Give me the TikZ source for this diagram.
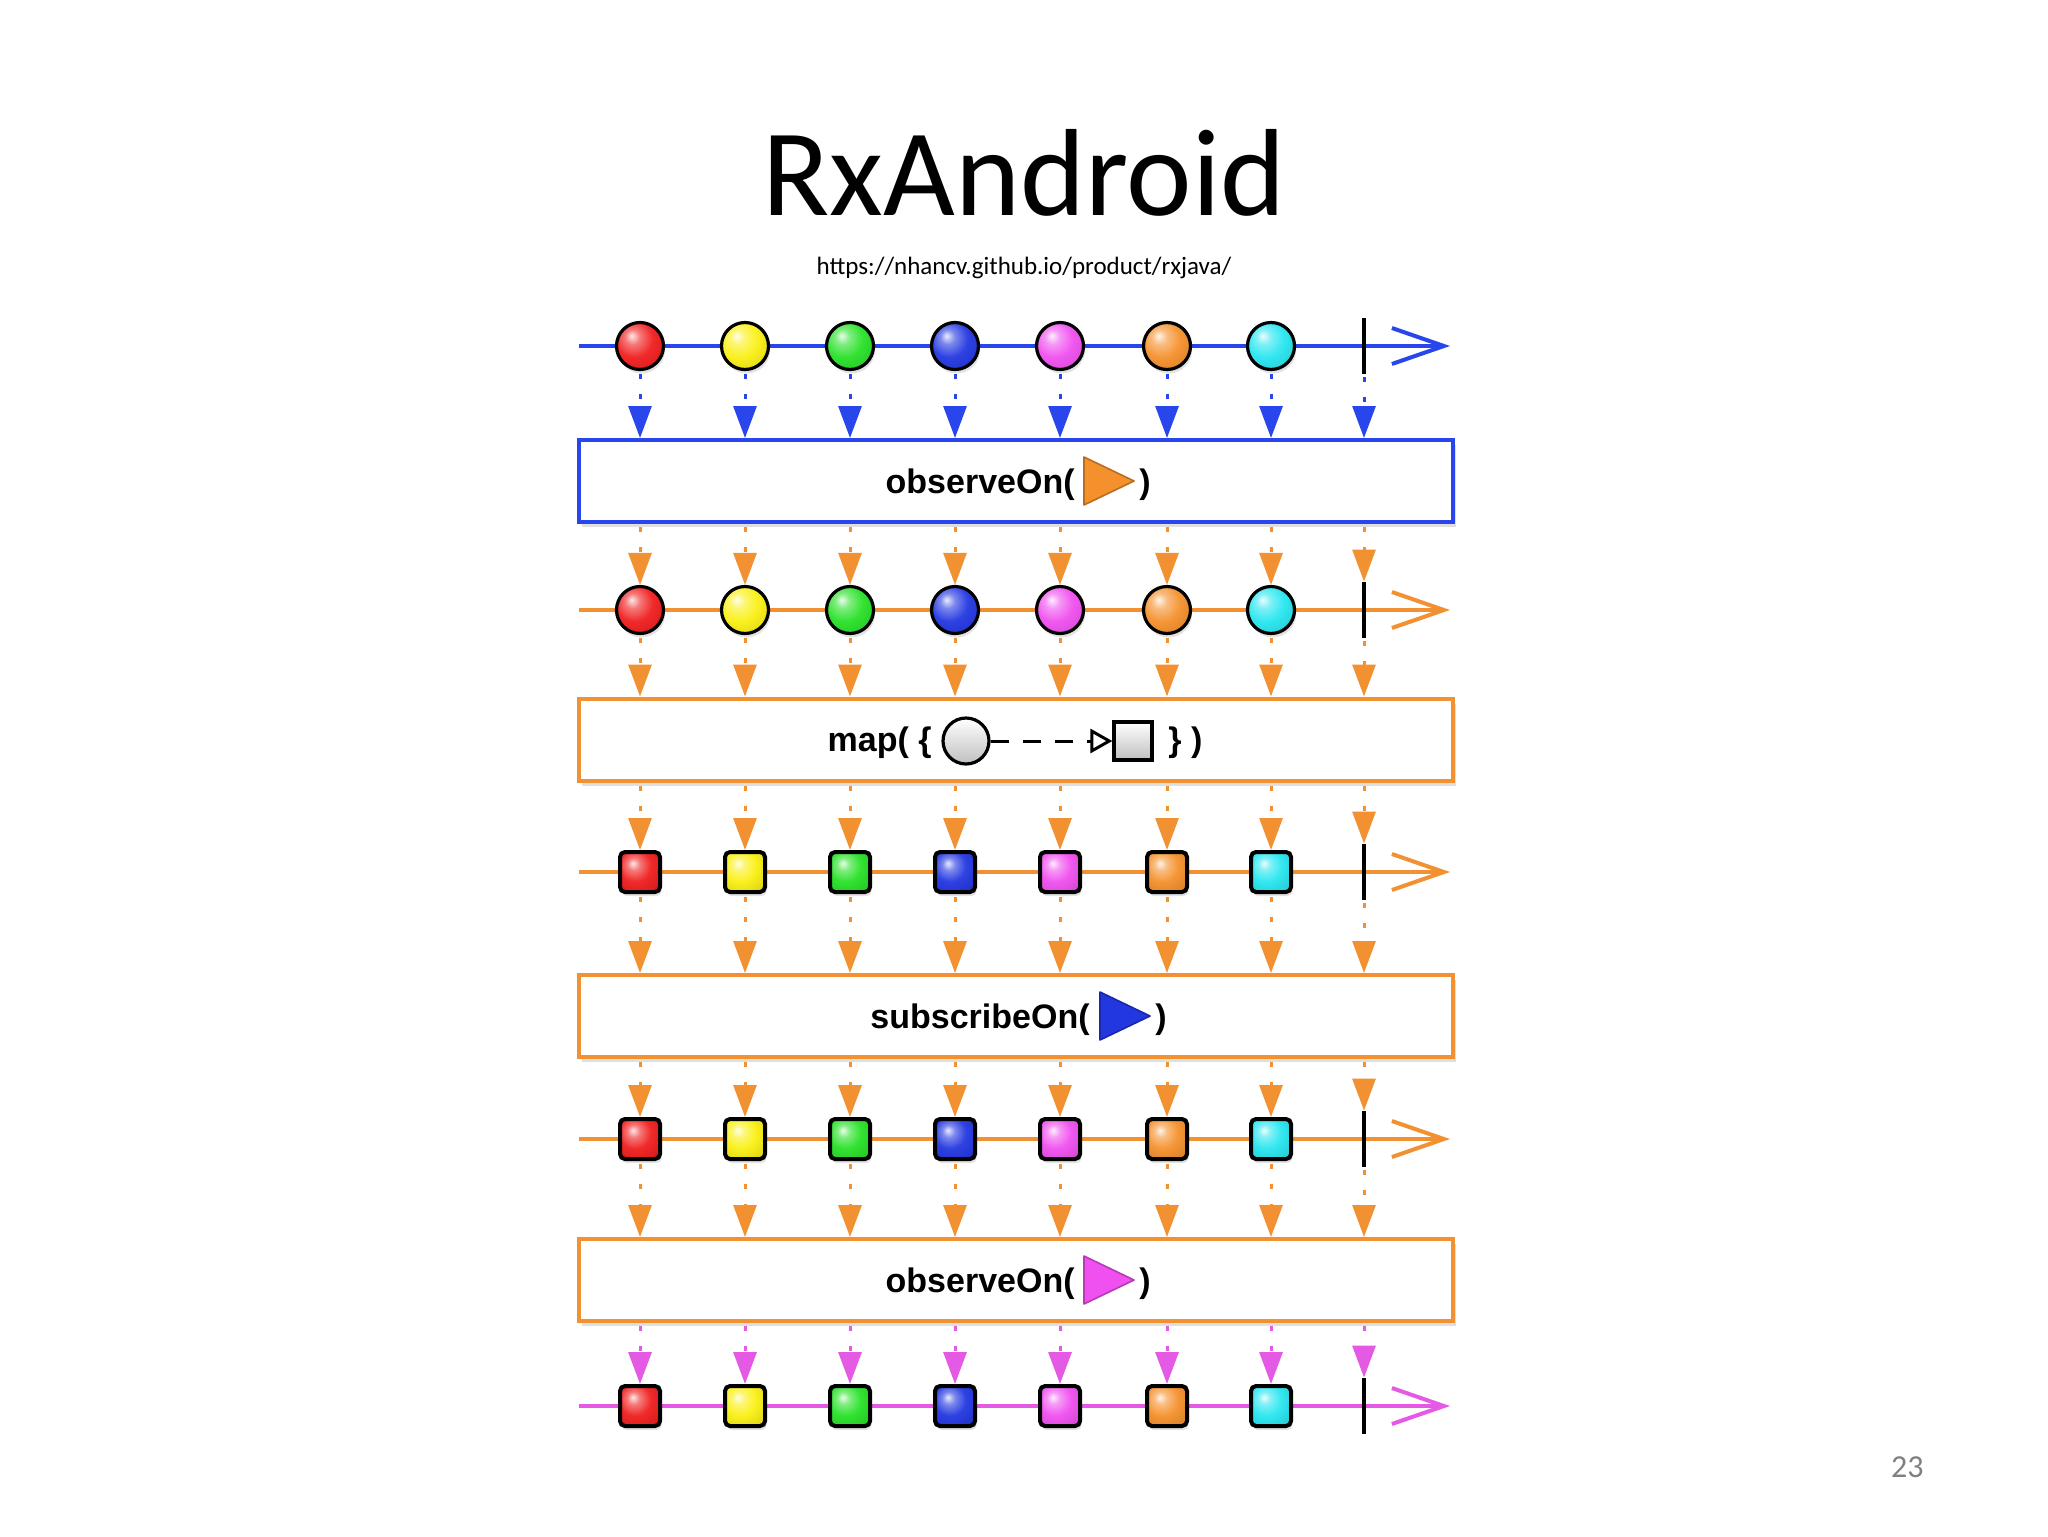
\documentclass[tikz,border=0pt]{standalone}
\usepackage{fontspec}
\setmainfont{Carlito}
\newfontfamily\helv{Liberation Sans}
\usetikzlibrary{arrows.meta,shadows}
\definecolor{rxred}{RGB}{240,30,30}
\definecolor{rxyellow}{RGB}{250,240,20}
\definecolor{rxgreen}{RGB}{40,225,40}
\definecolor{rxblue}{RGB}{35,55,225}
\definecolor{rxmagenta}{RGB}{240,80,240}
\definecolor{rxorange}{RGB}{245,145,45}
\definecolor{rxcyan}{RGB}{40,230,240}
\definecolor{lineblue}{RGB}{40,70,235}
\definecolor{lineorange}{RGB}{242,145,50}
\definecolor{linepink}{RGB}{228,90,228}
\colorlet{rxc}{red}
\pgfdeclareradialshading[rxc]{glossy}{\pgfqpoint{-9bp}{11bp}}{%
  color(0bp)=(rxc!10!white); color(8bp)=(rxc!60!white); color(20bp)=(rxc!95!white);
  color(38bp)=(rxc!88!black); color(55bp)=(rxc!55!black); color(70bp)=(rxc!40!black)}
\begin{document}
\begin{tikzpicture}[x=0.5pt,y=-0.5pt,
  glossy/.code={\colorlet{rxc}{#1}\tikzset{shading=glossy}},
  tl/.style={line width=2pt,-{Straight Barb[length=26pt,width=18pt]}},
  itemshadow/.style={drop shadow={opacity=0.22,shadow xshift=0.8pt,shadow yshift=-2pt}},
  ballitem/.style={circle,draw=black,line width=1.6pt,minimum size=23.5pt,inner sep=0pt,glossy=#1,itemshadow},
  sqitem/.style={rectangle,rounded corners=2.5pt,draw=black,line width=2pt,minimum size=20pt,inner sep=0pt,glossy=#1,itemshadow},
  cbar/.style={fill=black,minimum width=2pt,minimum height=28pt,inner sep=0pt},
  opbox/.style={draw=#1,line width=2pt,fill=white,minimum width=437pt,minimum height=41pt,inner sep=0pt,
    drop shadow={opacity=0.25,shadow xshift=1.5pt,shadow yshift=-2.5pt}},
  emit/.style={draw=#1,line width=1.5pt,dash pattern=on 2.5pt off 7.5pt,-{Triangle[width=11.5pt,length=16pt]},shorten <=1.5pt},
  lbl/.style={font=\helv\bfseries\fontsize{17}{20}\selectfont,inner sep=0pt},
  tri/.style={fill=#1,draw=#1!75!black,line width=0.8pt,line join=round},
]
\fill[white] (0,0) rectangle (2048,1536);
\useasboundingbox (0,0) rectangle (2048,1536);

% title, url, page number
\node[font=\fontsize{62}{70}\selectfont,anchor=base,inner sep=0pt] (title) at (1024,215) {RxAndroid};
\node[font=\fontsize{12.5}{15}\selectfont,anchor=base,inner sep=0pt] (url) at (1024,274) {https://nhancv.github.io/product/rxjava/};
\node[font=\fontsize{16}{19}\selectfont,text=black!50,anchor=base east,inner sep=0pt] (pg) at (1924,1477) {23};

% operator boxes
\node[opbox=lineblue] (b1) at (1016,481) {};
\node[opbox=lineorange] (b2) at (1016,739.5) {};
\node[opbox=lineorange] (b3) at (1016,1016) {};
\node[opbox=lineorange] (b4) at (1016,1280) {};

% timelines with circles
\foreach \r/\y/\lc in {1/346/lineblue,2/610/lineorange} {
  \coordinate (s\r) at (579,\y);
  \coordinate (e\r) at (1450,\y);
  \draw[tl,\lc] (s\r) -- (e\r);
  \foreach \x/\c [count=\i] in {640/rxred,745/rxyellow,850/rxgreen,955/rxblue,1060/rxmagenta,1167/rxorange,1271/rxcyan} {
    \node[ballitem=\c] (o\r-\i) at (\x,\y) {};
  }
  \node[cbar] (o\r-8) at (1364,\y) {};
}
% timelines with squares
\foreach \r/\y/\lc in {3/872/lineorange,4/1139/lineorange,5/1406/linepink} {
  \coordinate (s\r) at (579,\y);
  \coordinate (e\r) at (1450,\y);
  \draw[tl,\lc] (s\r) -- (e\r);
  \foreach \x/\c [count=\i] in {640/rxred,745/rxyellow,850/rxgreen,955/rxblue,1060/rxmagenta,1167/rxorange,1271/rxcyan} {
    \node[sqitem=\c] (o\r-\i) at (\x,\y) {};
  }
  \node[cbar] (o\r-8) at (1364,\y) {};
}

% emission arrows
\foreach \i in {1,...,8} {
  \draw[emit=lineblue] (o1-\i.south) -- (b1.north -| o1-\i);
  \draw[emit=lineorange] (b1.south -| o2-\i) -- (o2-\i.north);
  \draw[emit=lineorange] (o2-\i.south) -- (b2.north -| o2-\i);
  \draw[emit=lineorange] (b2.south -| o3-\i) -- (o3-\i.north);
  \draw[emit=lineorange] (o3-\i.south) -- (b3.north -| o3-\i);
  \draw[emit=lineorange] (b3.south -| o4-\i) -- (o4-\i.north);
  \draw[emit=lineorange] (o4-\i.south) -- (b4.north -| o4-\i);
  \draw[emit=linepink] (b4.south -| o5-\i) -- (o5-\i.north);
}

% box 1: observeOn( orange )
\node[lbl,anchor=base east] (t1) at (1075,493) {observeOn(};
\draw[tri=rxorange] (1084,457) -- (1084,505) -- (1134,481) -- cycle;
\node[lbl,anchor=base west] (p1) at (1139,493) {)};

% box 2: map
\node[lbl,anchor=base east] (t2) at (932,751) {map( \{};
\node[circle,draw=black,line width=1.6pt,minimum width=22pt,minimum height=23pt,inner sep=0pt,top color=white,bottom color=black!25] (mc) at (966,741) {};
\node[rectangle,draw=black,line width=1.6pt,minimum size=19pt,inner sep=0pt,top color=white,bottom color=black!25] (ms) at (1133,741) {};
\draw[line width=1.5pt,dash pattern=on 9pt off 7pt,-{Triangle[open,width=12pt,length=11pt]}] (mc.east) -- (ms.west);
\node[lbl,anchor=base west] (p2) at (1168,751) {\} )};

% box 3: subscribeOn( blue )
\node[lbl,anchor=base east] (t3) at (1090,1028) {subscribeOn(};
\draw[tri=rxblue] (1100,992) -- (1100,1040) -- (1150,1016) -- cycle;
\node[lbl,anchor=base west] (p3) at (1155,1028) {)};

% box 4: observeOn( magenta )
\node[lbl,anchor=base east] (t4) at (1075,1292) {observeOn(};
\draw[tri=rxmagenta] (1084,1256) -- (1084,1304) -- (1134,1280) -- cycle;
\node[lbl,anchor=base west] (p4) at (1139,1292) {)};
\end{tikzpicture}
\end{document}
